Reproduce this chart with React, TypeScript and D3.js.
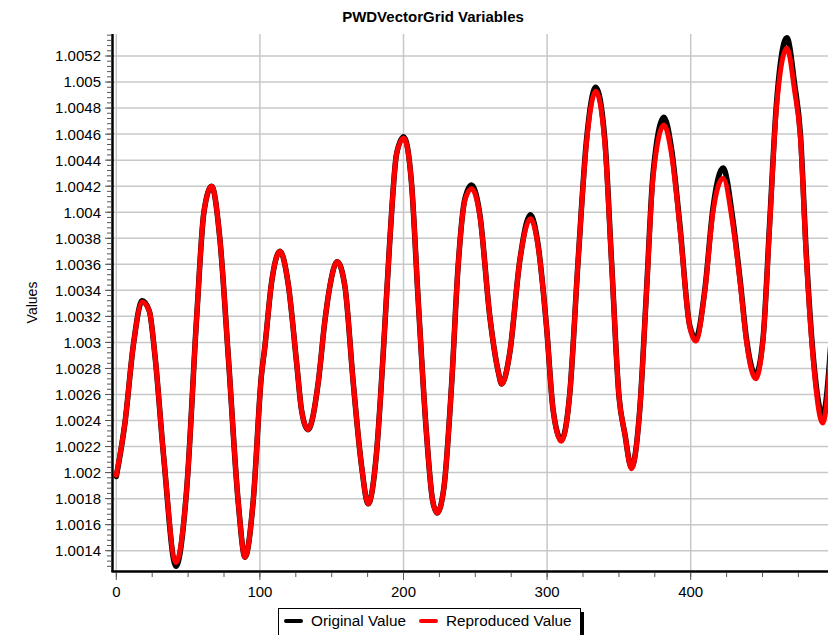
import React from "react";
import * as d3 from "d3";

const TITLE = "PWDVectorGrid Variables";
const Y_LABEL = "Values";
const SERIES_NAMES = ["Original Value", "Reproduced Value"];

const xs = [
  0, 6, 12, 18, 23, 27, 33, 41.5, 49, 56, 61, 66.4, 72, 78, 85, 89.6, 95.4, 101, 103.5, 108,
  114, 119.7, 125.6, 129, 133.5, 140.6, 145.3, 148.7, 153.8, 159.2, 165, 170.8, 175.4, 181.2, 185.9, 190.5,
  195.2, 200.2, 205.6, 210.2, 216, 220.2, 223.4, 228.1, 233.4, 238, 242.7, 247.4, 253.2, 260.1,
  265.9, 268.4, 274, 281, 288.4, 293.7, 299.6, 304.2, 310, 315.8, 321.6, 327.4, 333.9, 340.2,
  344.8, 350.1, 354.1, 358.7, 364.5, 369.2, 373.8, 381.4, 386.6, 392.3, 399.3, 403.5, 409.8, 415.5,
  422.5, 429.4, 434.6, 438.8, 445.2, 450.3, 455, 459.7, 467, 472.4, 476.4, 480.5, 485.2, 492, 498,
];

const originalValues = [
  1.00197, 1.00238, 1.00299, 1.00332, 1.00324, 1.00289, 1.00212, 1.00128, 1.00187, 1.0032, 1.004, 1.0042, 1.00381, 1.00289, 1.00176, 1.00135, 1.00179, 1.00274, 1.00297, 1.00345,
  1.0037, 1.00345, 1.00284, 1.00248, 1.00233, 1.00269, 1.00317, 1.00343, 1.00362, 1.00343, 1.00269, 1.00205, 1.00176, 1.00215, 1.00292, 1.00379,
  1.00445, 1.00458, 1.00422, 1.00333, 1.0023, 1.00179, 1.00169, 1.00188, 1.00266, 1.00358, 1.0041, 1.00421, 1.00398, 1.0032,
  1.00278, 1.00268, 1.00292, 1.00363, 1.00398, 1.00375, 1.00312, 1.00248, 1.00225, 1.00261, 1.00363, 1.00455, 1.00496, 1.00456,
  1.00364, 1.00258, 1.0023, 1.00204, 1.00248, 1.00339, 1.0043, 1.00473, 1.00449, 1.00392, 1.00313, 1.00303, 1.0034, 1.00403,
  1.00434, 1.00394, 1.00346, 1.00303, 1.00275, 1.00302, 1.00392, 1.00483, 1.00534, 1.00498, 1.0046, 1.00368, 1.00291, 1.00244, 1.00305,
];

const reproducedValues = [
  1.00198, 1.00238, 1.00299, 1.00331, 1.00324, 1.00289, 1.00212, 1.00131, 1.00187, 1.0032, 1.004, 1.0042, 1.00381, 1.00289, 1.00176, 1.00135, 1.00179, 1.00274, 1.00297, 1.00345,
  1.0037, 1.00345, 1.00284, 1.00248, 1.00233, 1.00269, 1.00317, 1.00343, 1.00362, 1.00343, 1.00269, 1.00205, 1.00176, 1.00215, 1.00292, 1.00379,
  1.00445, 1.00457, 1.00422, 1.00333, 1.0023, 1.00179, 1.00169, 1.00188, 1.00266, 1.00358, 1.00409, 1.00418, 1.00397, 1.0032,
  1.00278, 1.00268, 1.00292, 1.00363, 1.00395, 1.00374, 1.00312, 1.00248, 1.00224, 1.00261, 1.00363, 1.00453, 1.00493, 1.00453,
  1.00363, 1.00258, 1.0023, 1.00203, 1.00248, 1.00338, 1.00427, 1.00467, 1.00445, 1.0039, 1.00312, 1.00301, 1.00339, 1.004,
  1.00426, 1.0039, 1.00344, 1.00301, 1.00272, 1.00301, 1.0039, 1.0048, 1.00526, 1.00493, 1.00457, 1.00365, 1.00288, 1.00238, 1.003,
];

const xTickValues = [0, 100, 200, 300, 400];
const yTickValues = [
  1.0014, 1.0016, 1.0018, 1.002, 1.0022, 1.0024, 1.0026, 1.0028, 1.003, 1.0032,
  1.0034, 1.0036, 1.0038, 1.004, 1.0042, 1.0044, 1.0046, 1.0048, 1.005, 1.0052,
];

const W = 828;
const H = 635;
const FONT = "Arial, 'Liberation Sans', sans-serif";

export default function App() {
  const plotLeft = 113;
  const plotTop = 34;
  const plotBottom = 571;
  const plotRight = 828;

  const x = d3.scaleLinear().domain([0, 100]).range([116.3, 259.9]);
  const y = d3.scaleLinear().domain([1.0014, 1.0052]).range([550.7, 56]);

  const yMin = y.invert(plotBottom);
  const yMax = y.invert(plotTop);
  const xMax = x.invert(plotRight);

  const yMinor: number[] = [];
  for (let v = 1.0014 - 0.00004 * 5; v <= yMax + 1e-9; v += 0.00004) {
    if (v >= yMin - 1e-9) yMinor.push(v);
  }
  const xMinor: number[] = [];
  for (let v = 0; v <= xMax; v += 25) xMinor.push(v);

  const pointsOrig = xs.map((xv, i) => [xv, originalValues[i]] as [number, number]);
  const pointsRep = xs.map((xv, i) => [xv, reproducedValues[i]] as [number, number]);
  const line = d3
    .line<[number, number]>()
    .x((d) => x(d[0]))
    .y((d) => y(d[1]))
    .curve(d3.curveMonotoneX);

  const fmt = (v: number) => String(+v.toFixed(4));

  return (
    <svg
      width={W}
      height={H}
      style={{ position: "absolute", left: 0, top: 0, background: "#fff" }}
      fontFamily={FONT}
    >
      <defs>
        <clipPath id="plotclip">
          <rect x={plotLeft} y={plotTop} width={plotRight - plotLeft} height={plotBottom - plotTop} />
        </clipPath>
      </defs>
      <rect x={0} y={0} width={W} height={H} fill="#fff" />

      {/* grid */}
      <g stroke="#c8c8c8" strokeWidth={1.5}>
        {yTickValues.map((v) => (
          <line key={"gy" + v} x1={plotLeft} x2={plotRight} y1={y(v)} y2={y(v)} />
        ))}
        {xTickValues.map((v) => (
          <line key={"gx" + v} x1={x(v)} x2={x(v)} y1={plotTop} y2={plotBottom} />
        ))}
      </g>

      {/* series */}
      <g clipPath="url(#plotclip)" fill="none" strokeLinejoin="round" strokeLinecap="round">
        <path d={line(pointsOrig) || ""} stroke="#000" strokeWidth={5.5} />
        <path d={line(pointsRep) || ""} stroke="#ff0000" strokeWidth={5} />
      </g>

      {/* y axis */}
      <line x1={112.5} x2={112.5} y1={plotTop} y2={plotBottom + 1} stroke="#000" strokeWidth={2.5} />
      <g stroke="#555" strokeWidth={1}>
        {yMinor.map((v, i) => (
          <line key={"ym" + i} x1={107} x2={111} y1={y(v)} y2={y(v)} />
        ))}
        {yTickValues.map((v) => (
          <line key={"yt" + v} x1={105} x2={111} y1={y(v)} y2={y(v)} />
        ))}
      </g>
      <g fontSize={15} fill="#000" textAnchor="end">
        {yTickValues.map((v) => (
          <text key={"yl" + v} x={101} y={y(v)} dy="0.36em">
            {fmt(v)}
          </text>
        ))}
      </g>

      {/* x axis */}
      <line x1={111.5} x2={plotRight} y1={571.5} y2={571.5} stroke="#000" strokeWidth={2.5} />
      <g stroke="#555" strokeWidth={1}>
        {xMinor.map((v) => (
          <line key={"xm" + v} x1={x(v)} x2={x(v)} y1={573} y2={577} />
        ))}
        {xTickValues.map((v) => (
          <line key={"xt" + v} x1={x(v)} x2={x(v)} y1={573} y2={580} />
        ))}
      </g>
      <g fontSize={15} fill="#000" textAnchor="middle">
        {xTickValues.map((v) => (
          <text key={"xl" + v} x={x(v)} y={597}>
            {v}
          </text>
        ))}
      </g>

      {/* title */}
      <text x={433} y={22} textAnchor="middle" fontSize={15} fontWeight="bold" fill="#000">
        {TITLE}
      </text>

      {/* y label */}
      <text
        transform={`translate(37, ${(plotTop + plotBottom) / 2}) rotate(-90)`}
        textAnchor="middle"
        fontSize={14}
        fill="#000"
      >
        {Y_LABEL}
      </text>

      {/* legend */}
      <rect x={581} y={612} width={3} height={30} fill="#000" />
      <rect x={278.5} y={608.5} width={302} height={34} fill="#fff" stroke="#000" strokeWidth={1} />
      <line x1={286} x2={301} y1={621} y2={621} stroke="#000" strokeWidth={4} strokeLinecap="round" />
      <text x={311} y={626} fontSize={15.3} fill="#000">
        {SERIES_NAMES[0]}
      </text>
      <line x1={421} x2={436} y1={621} y2={621} stroke="#ff0000" strokeWidth={4} strokeLinecap="round" />
      <text x={446} y={626} fontSize={15.3} fill="#000">
        {SERIES_NAMES[1]}
      </text>
    </svg>
  );
}
